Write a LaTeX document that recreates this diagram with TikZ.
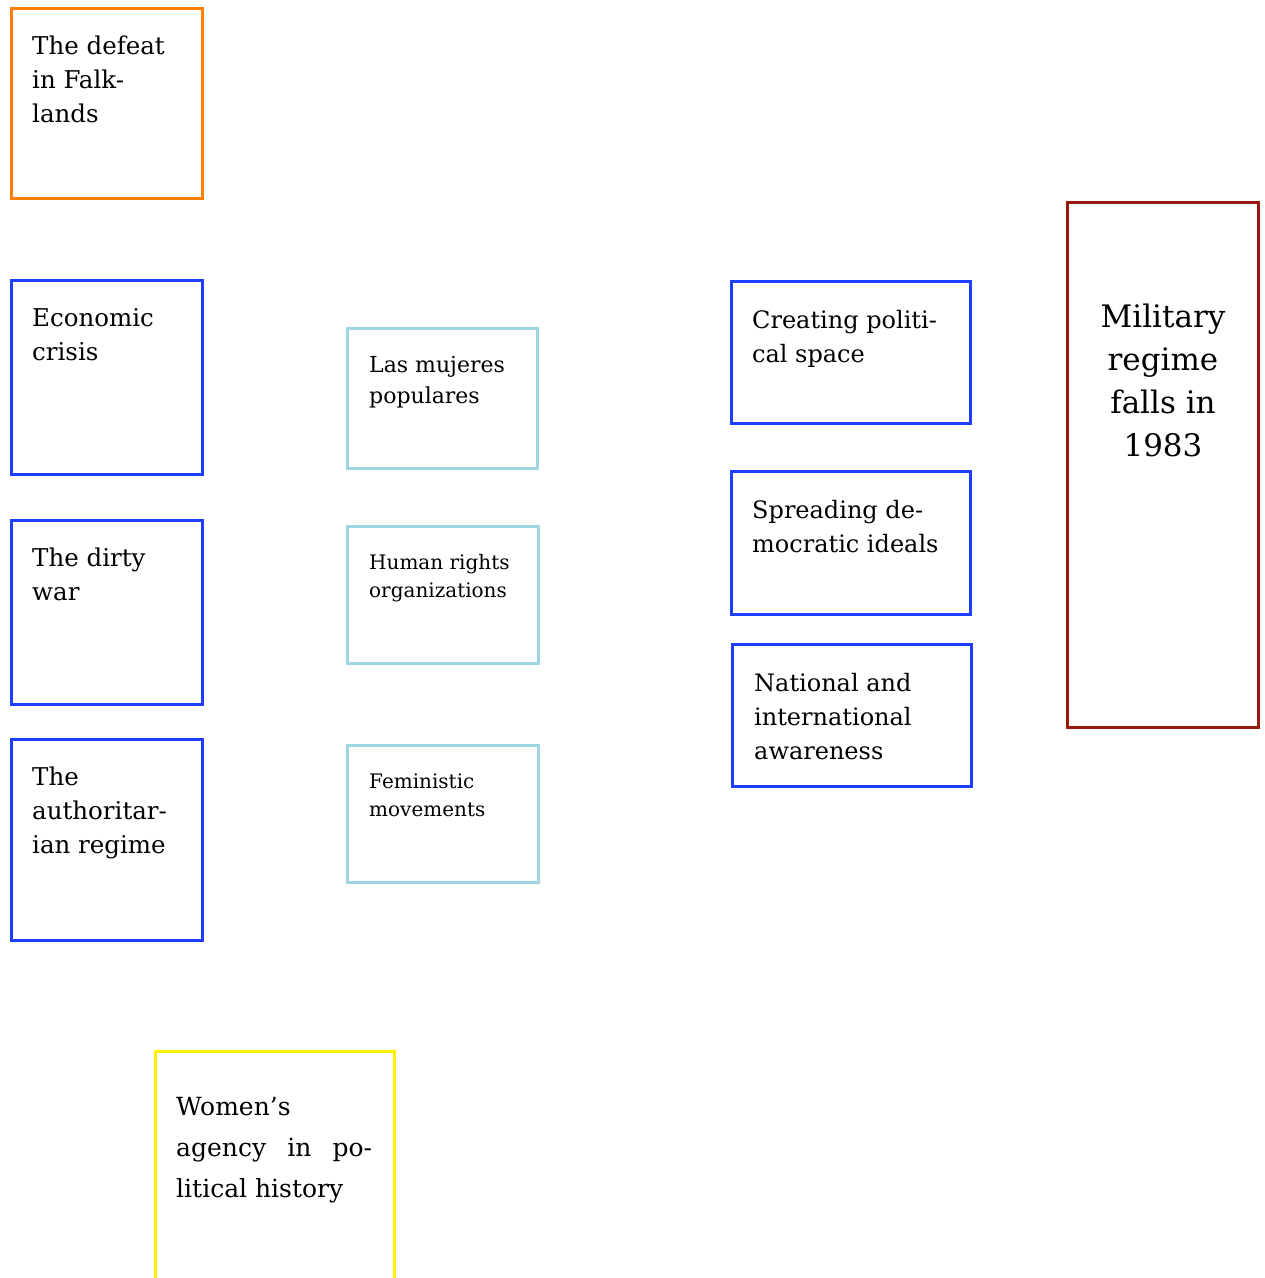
\documentclass[tikz,border=0pt]{standalone}
\usepackage{fontspec}
\setmainfont{DejaVu Serif}
\definecolor{borange}{HTML}{FF8000}
\definecolor{bblue}{HTML}{1F3FFF}
\definecolor{blight}{HTML}{9ED6E2}
\definecolor{bred}{HTML}{9A1A0E}
\definecolor{byellow}{HTML}{FFF200}
\begin{document}
\begin{tikzpicture}[x=1pt,y=-1pt,
  frame/.style={draw=#1,line width=2.8pt,inner sep=0pt,anchor=north west},
  bigtxt/.style={anchor=base west,inner sep=0pt,align=left,font=\fontsize{24.5}{34}\selectfont},
  midtxt/.style={anchor=base west,inner sep=0pt,align=left,font=\fontsize{22}{31}\selectfont},
  smalltxt/.style={anchor=base west,inner sep=0pt,align=left,font=\fontsize{20}{28}\selectfont},
  righttxt/.style={anchor=base west,inner sep=0pt,align=left,font=\fontsize{24}{34}\selectfont}]
\useasboundingbox (0,0) rectangle (1265,1278);
\fill[white] (0,0) rectangle (1265,1278);
% left column
\node[frame=borange,minimum width=191pt,minimum height=190pt] (falk) at (10,7) {};
\node[bigtxt] (falkt) at (32,122) {The defeat\\in Falk-\\lands};
\node[frame=bblue,minimum width=191pt,minimum height=194pt] (econ) at (10,279) {};
\node[bigtxt] (econt) at (32,360) {Economic\\crisis};
\node[frame=bblue,minimum width=191pt,minimum height=184pt] (dirty) at (10,519) {};
\node[bigtxt] (dirtyt) at (32,600) {The dirty\\war};
\node[frame=bblue,minimum width=191pt,minimum height=201pt] (auth) at (10,738) {};
\node[bigtxt] (autht) at (32,853) {The\\authoritar-\\ian regime};
% middle column
\node[frame=blight,minimum width=190pt,minimum height=140pt] (mujer) at (346,327) {};
\node[midtxt] (mujert) at (369,403) {Las mujeres\\populares};
\node[frame=blight,minimum width=191pt,minimum height=137pt] (human) at (346,525) {};
\node[smalltxt] (humant) at (369,597) {Human rights\\organizations};
\node[frame=blight,minimum width=191pt,minimum height=137pt] (femin) at (346,744) {};
\node[smalltxt] (femint) at (369,816) {Feministic\\movements};
% right column
\node[frame=bblue,minimum width=239pt,minimum height=142pt] (space) at (730,280) {};
\node[righttxt] (spacet) at (752,362) {Creating politi-\\cal space};
\node[frame=bblue,minimum width=239pt,minimum height=143pt] (demo) at (730,470) {};
\node[righttxt] (demot) at (752,552) {Spreading de-\\mocratic ideals};
\node[frame=bblue,minimum width=239pt,minimum height=142pt] (aware) at (731,643) {};
\node[righttxt] (awaret) at (754,759) {National and\\international\\awareness};
% military
\node[frame=bred,minimum width=191pt,minimum height=525pt] (mil) at (1066,201) {};
\node[anchor=base,inner sep=0pt,align=center,font=\fontsize{31}{43}\selectfont] (milt) at (1163,456) {Military\\regime\\falls in\\1983};
% women
\node[frame=byellow,minimum width=239pt,minimum height=240pt] (women) at (154,1050) {};
\node[anchor=base west,inner sep=0pt,align=left,font=\fontsize{25}{41}\selectfont] (woment) at (176,1197) {Women’s\\\makebox[196pt][s]{agency in po-}\\litical history};
\end{tikzpicture}
\end{document}
